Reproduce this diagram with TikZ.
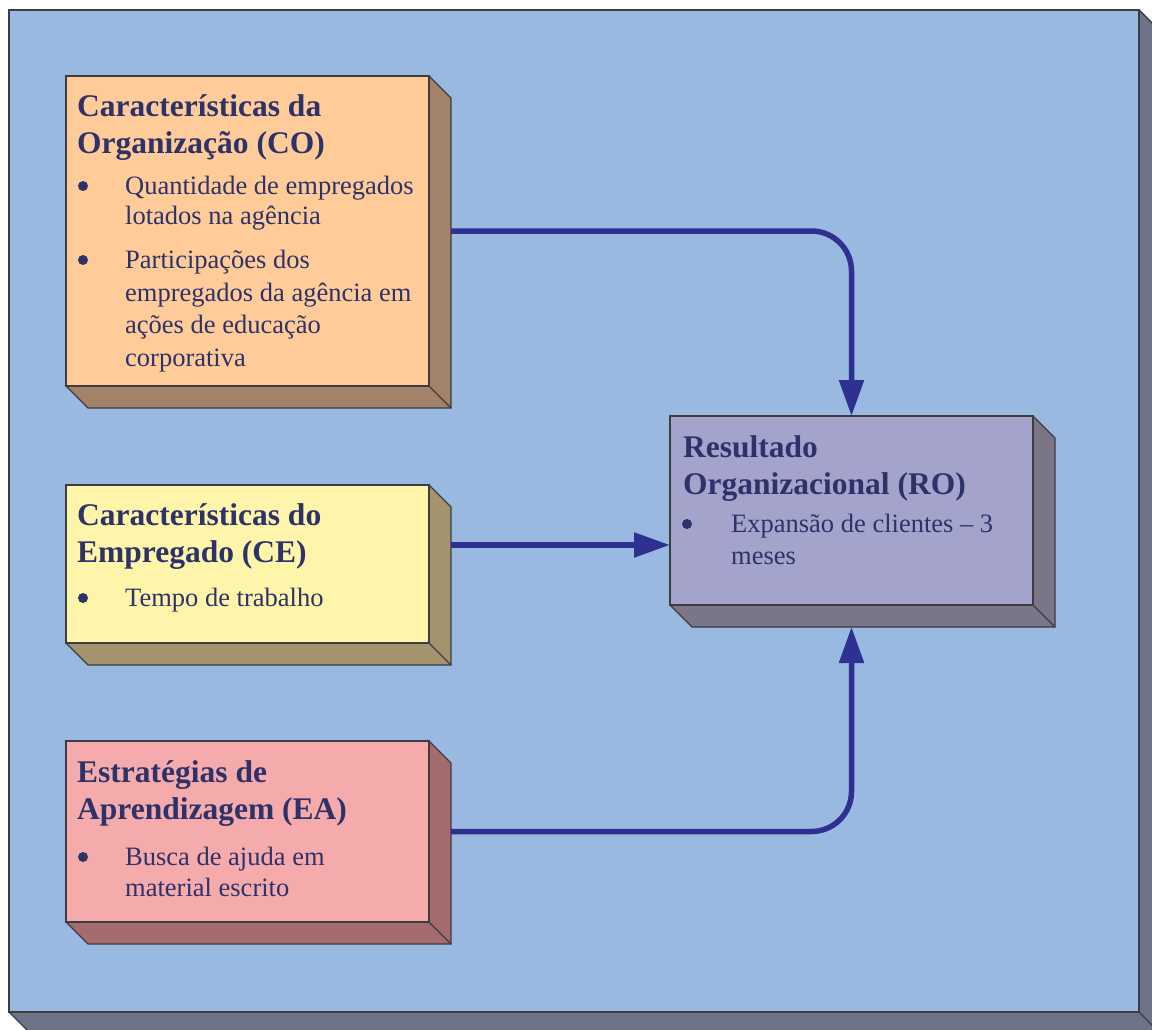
\documentclass[tikz,border=0pt]{standalone}
\usepackage{fontspec}
\setmainfont{Liberation Serif}
\usetikzlibrary{arrows.meta}

\definecolor{ink}{RGB}{45,50,105}
\definecolor{edge}{RGB}{60,60,66}
\definecolor{arrowblue}{RGB}{46,49,146}
\definecolor{panel}{RGB}{154,185,225}
\definecolor{panelside}{RGB}{110,116,135}
\definecolor{cofront}{RGB}{255,204,153}
\definecolor{coside}{RGB}{163,130,106}
\definecolor{cefront}{RGB}{255,245,170}
\definecolor{ceside}{RGB}{163,148,110}
\definecolor{eafront}{RGB}{245,170,172}
\definecolor{easide}{RGB}{165,108,112}
\definecolor{rofront}{RGB}{163,163,204}
\definecolor{roside}{RGB}{122,117,135}

% extruded block: name, x0, y0, x1, y1, depth, front colour, side colour
\newcommand\blockthreed[8]{%
  \fill[#8] (#4,#3) -- ++(#6,#6) -- (#4+#6,#5+#6) -- (#2+#6,#5+#6) -- (#2,#5) -- (#4,#5) -- cycle;
  \draw[edge, line width=1.4pt, line join=miter] (#4,#3) -- ++(#6,#6) -- (#4+#6,#5+#6) -- (#2+#6,#5+#6) -- (#2,#5);
  \draw[edge, line width=1.4pt] (#4,#5) -- ++(#6,#6);
  \node[draw=edge, line width=1.4pt, fill=#7, inner sep=0pt, outer sep=0pt,
        anchor=north west, minimum width=#4pt-#2pt, minimum height=#5pt-#3pt] (#1) at (#2,#3) {};
}

\tikzset{
  x=1pt, y=-1pt,
  heading/.style={anchor=base west, inner sep=0pt, text=ink,
    font=\fontsize{31.5}{37}\selectfont\bfseries},
  bodytext/.style={anchor=base west, inner sep=0pt, text=ink,
    font=\fontsize{26.5}{31}\selectfont},
  widebody/.style={bodytext, font=\fontsize{26.5}{33}\selectfont},
  bulletdot/.style={circle, fill=ink, inner sep=0pt, minimum size=10pt},
  link/.style={draw=arrowblue, line width=5.5pt, rounded corners=40pt,
    -{Triangle[length=36pt, width=24pt]}},
}

\begin{document}
\begin{tikzpicture}
\useasboundingbox (0,0) rectangle (1152,1030);
\clip (0,0) rectangle (1152,1030);
\fill[white] (0,0) rectangle (1152,1030);

% background panel
\blockthreed{panel}{9}{10}{1139}{1012}{20}{panel}{panelside}

% blocks
\blockthreed{co}{66}{76}{429}{386}{22}{cofront}{coside}
\blockthreed{ce}{66}{485}{429}{643}{22}{cefront}{ceside}
\blockthreed{ea}{66}{741}{429}{922}{22}{eafront}{easide}
\blockthreed{ro}{670}{416}{1033}{605}{22}{rofront}{roside}

% Características da Organização
\node[heading] (cot) at (77,117) {\begin{tabular}[t]{@{}l@{}}Características da\\Organização (CO)\end{tabular}};
\node[bulletdot] (cob1) at (83,186) {};
\node[bodytext] (cox1) at (125,194) {\begin{tabular}[t]{@{}l@{}}Quantidade de empregados\\lotados na agência\end{tabular}};
\node[bulletdot] (cob2) at (83,260) {};
\node[widebody] (cox2) at (125,268) {\begin{tabular}[t]{@{}l@{}}Participações dos\\empregados da agência em\\ações de educação\\corporativa\end{tabular}};

% Características do Empregado
\node[heading] (cet) at (77,525) {\begin{tabular}[t]{@{}l@{}}Características do\\Empregado (CE)\end{tabular}};
\node[bulletdot] (ceb1) at (83,598) {};
\node[bodytext] (cex1) at (125,606) {Tempo de trabalho};

% Estratégias de Aprendizagem
\node[heading] (eat) at (77,782) {\begin{tabular}[t]{@{}l@{}}Estratégias de\\Aprendizagem (EA)\end{tabular}};
\node[bulletdot] (eab1) at (83,857) {};
\node[bodytext] (eax1) at (125,865) {\begin{tabular}[t]{@{}l@{}}Busca de ajuda em\\material escrito\end{tabular}};

% Resultado Organizacional
\node[heading] (rot) at (683,457) {\begin{tabular}[t]{@{}l@{}}Resultado\\Organizacional (RO)\end{tabular}};
\node[bulletdot] (rob1) at (687,524) {};
\node[widebody, font=\fontsize{26.5}{32}\selectfont] (rox1) at (731,532) {\begin{tabular}[t]{@{}l@{}}Expansão de clientes – 3\\meses\end{tabular}};

% connectors
\coordinate (coout) at ([xshift=22pt]co.east);
\coordinate (ceout) at (451,545);
\coordinate (eaout) at ([xshift=22pt]ea.east);
\coordinate (roin) at ([yshift=-22pt]ro.south);
\draw[link] (coout) -| (ro.north);
\draw[link] (ceout) -- (ceout -| ro.west);
\draw[link] (eaout) -| (roin);
\end{tikzpicture}
\end{document}
